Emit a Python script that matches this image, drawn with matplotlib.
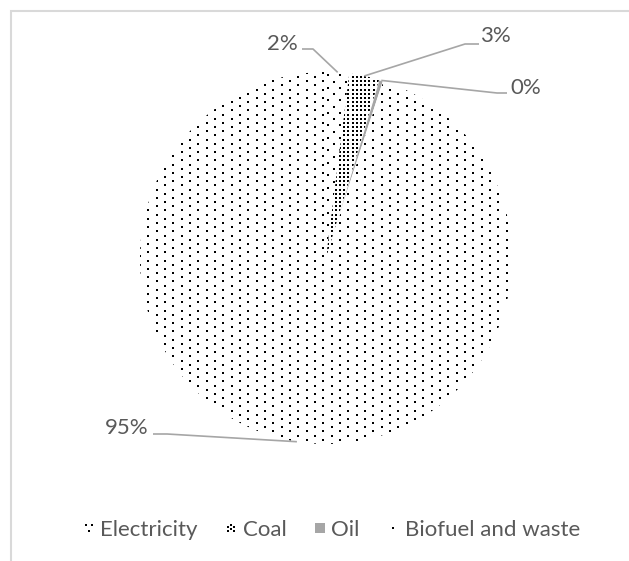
import numpy as np
import matplotlib
matplotlib.use("Agg")
import matplotlib.pyplot as plt
from matplotlib.path import Path
from matplotlib.lines import Line2D
from matplotlib.patches import Rectangle

plt.rcParams['font.family'] = ['Lato', 'DejaVu Sans']

# ---- data ----
categories = ['Electricity', 'Coal', 'Oil', 'Biofuel and waste']
shares = [2.0, 2.6, 0.4, 95.0]

# ---- layout / style (pixels, top-left origin) ----
W, H = 629, 561
CX, CY, R = 326, H - 258, 186
TEXT_COLOR = '#595959'
LEADER_COLOR = '#a6a6a6'
FS = 16
label_pos = [(282, 44), (495, 36), (526, 88), (127, 428)]
label_elbows = [[(313, 49), (302, 49)],
                [(465, 44), (479, 44)],
                [(497, 93), (507, 93)],
                [(167, 434), (153, 434)]]
# texture lattices: (in-row spacing, row spacing, row stagger)
textures = {0: (12.5, 6.25, 6.25), 1: (4.17, 4.17, 0.0), 3: (16.67, 4.17, 8.33)}
fill_colors = ['white', 'white', '#a6a6a6', 'white']

fig = plt.figure(figsize=(W / 100, H / 100), dpi=100)
ax = fig.add_axes([0, 0, 1, 1])

wedges, _ = ax.pie(shares, startangle=90, counterclock=False, center=(CX, CY),
                   radius=R, colors=fill_colors,
                   wedgeprops=dict(edgecolor='white', linewidth=0.8))
ax.set_xlim(0, W)
ax.set_ylim(0, H)
ax.axis('off')


def lattice(dx, dy, stagger):
    ys = np.arange(CY - R - dy, CY + R + dy, dy)
    pts = []
    for j, y in enumerate(ys):
        off = (j % 2) * stagger
        xs = np.arange(CX - R - dx + off, CX + R + dx, dx)
        pts.append(np.column_stack([xs, np.full_like(xs, y)]))
    return np.vstack(pts)


for i, (dx, dy, st) in textures.items():
    pts = lattice(dx, dy, st)
    sc = ax.scatter(pts[:, 0], pts[:, 1], s=2.5, marker='s', c='black',
                    linewidths=0, zorder=3)
    sc.set_clip_path(wedges[i])

total = sum(shares)
for i, w in enumerate(wedges):
    th = np.deg2rad((w.theta1 + w.theta2) / 2)
    px, py = CX + R * np.cos(th), CY + R * np.sin(th)
    (e1x, e1y), (e2x, e2y) = label_elbows[i]
    ax.plot([px, e1x, e2x], [py, H - e1y, H - e2y], color=LEADER_COLOR,
            lw=1.2, solid_capstyle='butt', zorder=4)
    lx, ly = label_pos[i]
    ax.text(lx, H - ly, f"{shares[i] / total * 100:.0f}%", ha='center',
            va='center', fontsize=FS, color=TEXT_COLOR)

# frame (cropped chart-area border)
ax.add_patch(Rectangle((10.5, -20), 700, H - 10.5 + 20, fill=False,
                       edgecolor='#d9d9d9', lw=1.5, clip_on=False))


def dots_path(centers, half):
    verts, codes = [], []
    for cx, cy in centers:
        verts += [(cx - half, cy - half), (cx + half, cy - half),
                  (cx + half, cy + half), (cx - half, cy + half),
                  (cx - half, cy - half)]
        codes += [Path.MOVETO, Path.LINETO, Path.LINETO, Path.LINETO,
                  Path.CLOSEPOLY]
    return Path(verts, codes)


elec_marker = dots_path([(-1, 1), (1, 1), (0, -1)], 0.28)
coal_marker = dots_path([(x, y) for x in (-1, 0, 1) for y in (-1.2, -0.4, 0.4, 1.2)
                         if (x == 0) == (round(y / 0.8 + 0.5) % 2 == 0)], 0.3)
handles = [
    Line2D([], [], ls='none', marker=elec_marker, markersize=5.5,
           markerfacecolor='black', markeredgewidth=0),
    Line2D([], [], ls='none', marker=coal_marker, markersize=6,
           markerfacecolor='black', markeredgewidth=0),
    Line2D([], [], ls='none', marker='s', markersize=6.5,
           markerfacecolor='#a6a6a6', markeredgewidth=0),
    Line2D([], [], ls='none', marker='s', markersize=1.6,
           markerfacecolor='black', markeredgewidth=0),
]
fig.legend(handles, categories, loc='center',
           bbox_to_anchor=(331 / W, (H - 530) / H), ncol=4, frameon=False,
           handlelength=0.6, handletextpad=0.22, columnspacing=1.2,
           fontsize=FS, labelcolor=TEXT_COLOR)

fig.savefig('out.png', dpi=100)
